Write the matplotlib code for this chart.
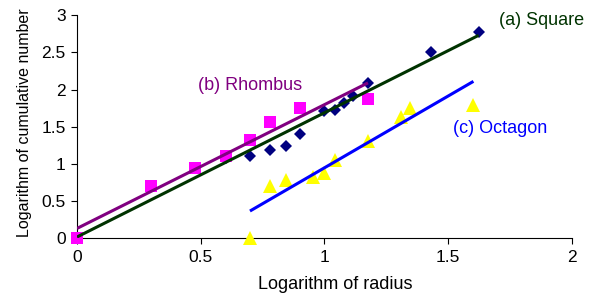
import numpy as np
import matplotlib
matplotlib.use("Agg")
import matplotlib.pyplot as plt

plt.rcParams['font.family'] = ['Liberation Sans', 'DejaVu Sans']

# log10 radius / log10 cumulative number
square_x = [0, 0.602, 0.699, 0.778, 0.845, 0.903, 1.0, 1.041, 1.079, 1.114, 1.176, 1.431, 1.623]
square_y = [0, 1.08, 1.11, 1.19, 1.24, 1.41, 1.71, 1.73, 1.82, 1.92, 2.09, 2.50, 2.78]

rhombus_x = [0, 0.301, 0.477, 0.602, 0.699, 0.778, 0.903, 1.176]
rhombus_y = [0, 0.70, 0.95, 1.11, 1.32, 1.57, 1.76, 1.88]

octagon_x = [0.699, 0.778, 0.845, 0.954, 1.0, 1.041, 1.176, 1.310, 1.345, 1.602]
octagon_y = [0, 0.70, 0.78, 0.83, 0.88, 1.06, 1.31, 1.63, 1.76, 1.80]

# trendlines (slope, intercept) as drawn in the figure
square_fit = (1.67, 0.02)
rhombus_fit = (1.664, 0.135)
octagon_fit = (1.93, -0.98)

series = [
    ('(a) Square', square_x, square_y, square_fit, 'D', 6.3, '#000080', '#003300', (1.705, 2.93)),
    ('(b) Rhombus', rhombus_x, rhombus_y, rhombus_fit, 's', 9, '#FF00FF', '#800080', (0.49, 2.05)),
    ('(c) Octagon', octagon_x, octagon_y, octagon_fit, '^', 10.5, '#FFFF00', '#0000FF', (1.52, 1.48)),
]

fig = plt.figure(figsize=(5.89, 2.98), dpi=100)
ax = fig.add_axes([0.1307, 0.1997, 0.8403, 0.749])

for name, xs, ys, fit, mk, ms, mcol, lcol, pos in series:
    ax.plot(xs, ys, linestyle='none', marker=mk, markersize=ms, color=mcol,
            markeredgewidth=0, zorder=3, clip_on=False)

for name, xs, ys, fit, mk, ms, mcol, lcol, pos in series:
    xx = np.array([min(xs), max(xs)])
    ax.plot(xx, fit[0] * xx + fit[1], color=lcol, linewidth=2.2, zorder=4,
            solid_capstyle='butt')
    ax.text(pos[0], pos[1], name, color=lcol, fontsize=13, va='center', ha='left')

ax.set_xlim(0, 2)
ax.set_ylim(0, 3)
ax.set_xticks([0, 0.5, 1, 1.5, 2])
ax.set_xticklabels(['0', '0.5', '1', '1.5', '2'])
ax.set_yticks([0, 0.5, 1, 1.5, 2, 2.5, 3])
ax.set_yticklabels(['0', '0.5', '1', '1.5', '2', '2.5', '3'])
ax.spines['top'].set_visible(False)
ax.spines['right'].set_visible(False)
ax.tick_params(direction='out', length=4, width=0.8, labelsize=12.5, pad=4)
ax.set_xlabel('Logarithm of radius', fontsize=13)
ax.xaxis.set_label_coords(0.521, -0.17)
ax.set_ylabel('Logarithm of cumulative number', fontsize=11.5)
ax.yaxis.set_label_coords(-0.09, 0.52)

fig.savefig('out.png', dpi=100)
